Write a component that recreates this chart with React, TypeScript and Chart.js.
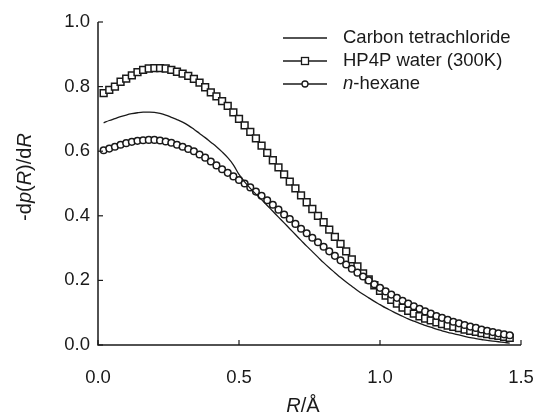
import React, { useEffect, useRef } from "react";
import { Chart, registerables } from "chart.js";
Chart.register(...registerables);

const R_VALUES = [
  0.02, 0.04, 0.06, 0.08, 0.1, 0.12, 0.14, 0.16, 0.18, 0.2,
  0.22, 0.24, 0.26, 0.28, 0.3, 0.32, 0.34, 0.36, 0.38, 0.4,
  0.42, 0.44, 0.46, 0.48, 0.5, 0.52, 0.54, 0.56, 0.58, 0.6,
  0.62, 0.64, 0.66, 0.68, 0.7, 0.72, 0.74, 0.76, 0.78, 0.8,
  0.82, 0.84, 0.86, 0.88, 0.9, 0.92, 0.94, 0.96, 0.98, 1.0,
  1.02, 1.04, 1.06, 1.08, 1.1, 1.12, 1.14, 1.16, 1.18, 1.2,
  1.22, 1.24, 1.26, 1.28, 1.3, 1.32, 1.34, 1.36, 1.38, 1.4,
  1.42, 1.44, 1.46,
];

const CCL4 = [
  0.688, 0.695, 0.701, 0.707, 0.712, 0.716, 0.719, 0.721, 0.721, 0.72,
  0.717, 0.712, 0.705, 0.698, 0.69, 0.68, 0.668, 0.655, 0.642, 0.628,
  0.614, 0.598, 0.58, 0.558, 0.528, 0.505, 0.485, 0.467, 0.45, 0.432,
  0.414, 0.396, 0.378, 0.36, 0.342, 0.324, 0.306, 0.289, 0.272, 0.255,
  0.239, 0.224, 0.209, 0.195, 0.182, 0.169, 0.157, 0.146, 0.135, 0.125,
  0.115, 0.106, 0.097, 0.089, 0.081, 0.074, 0.067, 0.061, 0.055, 0.049,
  0.044, 0.039, 0.035, 0.031, 0.027, 0.023, 0.02, 0.017, 0.014, 0.012,
  0.01, 0.008, 0.006,
];

const HP4P_WATER = [
  0.78, 0.79, 0.8, 0.815, 0.825, 0.835, 0.845, 0.852, 0.856, 0.857,
  0.857, 0.856, 0.852, 0.846, 0.84, 0.833, 0.824, 0.812, 0.798, 0.782,
  0.77, 0.755, 0.74, 0.72, 0.7, 0.68, 0.66, 0.64, 0.617, 0.595,
  0.572, 0.55, 0.528, 0.506, 0.485, 0.463, 0.442, 0.421, 0.4, 0.38,
  0.357, 0.335, 0.313, 0.29, 0.265, 0.243, 0.222, 0.203, 0.185, 0.168,
  0.153, 0.14, 0.128, 0.116, 0.106, 0.097, 0.089, 0.082, 0.076, 0.07,
  0.065, 0.06, 0.056, 0.052, 0.048, 0.044, 0.041, 0.037, 0.034, 0.031,
  0.028, 0.025, 0.022,
];

const N_HEXANE = [
  0.603, 0.608, 0.614, 0.62, 0.625, 0.629, 0.632, 0.634, 0.635, 0.635,
  0.633, 0.63, 0.626, 0.62, 0.614, 0.607, 0.6, 0.59, 0.58, 0.568,
  0.556, 0.544, 0.533, 0.522, 0.511, 0.5, 0.488, 0.475, 0.462, 0.448,
  0.434, 0.419, 0.404, 0.39, 0.375, 0.36, 0.346, 0.332, 0.318, 0.304,
  0.29, 0.276, 0.262, 0.249, 0.236, 0.224, 0.212, 0.2, 0.188, 0.177,
  0.166, 0.156, 0.146, 0.137, 0.128, 0.12, 0.112, 0.104, 0.097, 0.09,
  0.084, 0.078, 0.072, 0.067, 0.062, 0.057, 0.053, 0.048, 0.044, 0.04,
  0.036, 0.033, 0.03,
];

const SERIES_NAMES = ["Carbon tetrachloride", "HP4P water (300K)", "n-hexane"];
const X_TICKS = [0, 0.5, 1.0, 1.5];
const Y_TICKS = [0, 0.2, 0.4, 0.6, 0.8, 1.0];

const INK = "#1a1a1a";
const FONT = "'Liberation Sans', Arial, Helvetica, sans-serif";

type Part = { t: string; i?: boolean };

function drawParts(ctx: CanvasRenderingContext2D, parts: Part[], x: number, y: number, size: number, align: "left" | "center") {
  const widths = parts.map((p) => {
    ctx.font = `${p.i ? "italic " : ""}${size}px ${FONT}`;
    return ctx.measureText(p.t).width;
  });
  const total = widths.reduce((a, b) => a + b, 0);
  let cx = align === "center" ? x - total / 2 : x;
  parts.forEach((p, k) => {
    ctx.font = `${p.i ? "italic " : ""}${size}px ${FONT}`;
    ctx.fillText(p.t, cx, y);
    cx += widths[k];
  });
}

const decorPlugin = {
  id: "decor",
  afterDraw(chart: any) {
    const ctx: CanvasRenderingContext2D = chart.ctx;
    const xs = chart.scales.x;
    const ys = chart.scales.y;
    const area = chart.chartArea;
    ctx.save();
    ctx.strokeStyle = INK;
    ctx.lineWidth = 1.5;
    ctx.beginPath();
    ctx.moveTo(area.left, area.top);
    ctx.lineTo(area.left, area.bottom);
    ctx.lineTo(area.right, area.bottom);
    ctx.stroke();
    ctx.lineWidth = 1.2;
    X_TICKS.forEach((v) => {
      const px = xs.getPixelForValue(v);
      ctx.beginPath();
      ctx.moveTo(px, area.bottom);
      ctx.lineTo(px, area.bottom - 5);
      ctx.stroke();
    });
    Y_TICKS.forEach((v) => {
      const py = ys.getPixelForValue(v);
      ctx.beginPath();
      ctx.moveTo(area.left, py);
      ctx.lineTo(area.left + 5, py);
      ctx.stroke();
    });
    ctx.fillStyle = INK;
    ctx.textBaseline = "middle";
    drawParts(ctx, [{ t: "R", i: true }, { t: "/Å" }], 303, 406, 20, "center");
    ctx.save();
    ctx.translate(25, 177);
    ctx.rotate(-Math.PI / 2);
    drawParts(
      ctx,
      [{ t: "-d" }, { t: "p", i: true }, { t: "(" }, { t: "R", i: true }, { t: ")/d" }, { t: "R", i: true }],
      0, 0, 20, "center"
    );
    ctx.restore();
    const rows = [38, 61, 84];
    const x0 = 283, x1 = 327, xm = 305, tx = 343;
    rows.forEach((ry, k) => {
      ctx.strokeStyle = INK;
      ctx.lineWidth = 1.3;
      ctx.beginPath();
      ctx.moveTo(x0, ry);
      ctx.lineTo(x1, ry);
      ctx.stroke();
      if (k === 1) {
        ctx.fillStyle = "#fff";
        ctx.fillRect(xm - 3.5, ry - 3.5, 7, 7);
        ctx.strokeRect(xm - 3.5, ry - 3.5, 7, 7);
      } else if (k === 2) {
        ctx.fillStyle = "#fff";
        ctx.beginPath();
        ctx.arc(xm, ry, 3, 0, Math.PI * 2);
        ctx.fill();
        ctx.stroke();
      }
      ctx.fillStyle = INK;
      if (k === 2) {
        drawParts(ctx, [{ t: "n", i: true }, { t: "-hexane" }], tx, ry, 18.5, "left");
      } else {
        drawParts(ctx, [{ t: SERIES_NAMES[k] }], tx, ry, 18.5, "left");
      }
    });
    ctx.restore();
  },
};

export default function App() {
  const ref = useRef<HTMLCanvasElement | null>(null);
  useEffect(() => {
    document.body.style.margin = "0";
    const canvas = ref.current;
    if (!canvas) return;
    const toPts = (ys: number[]) => R_VALUES.map((r, i) => ({ x: r, y: ys[i] }));
    const chart = new Chart(canvas, {
      type: "line",
      data: {
        datasets: [
          {
            label: SERIES_NAMES[0],
            data: toPts(CCL4),
            borderColor: INK,
            borderWidth: 1.3,
            pointRadius: 0,
            tension: 0.4,
            fill: false,
          },
          {
            label: SERIES_NAMES[2],
            data: toPts(N_HEXANE),
            borderColor: INK,
            borderWidth: 1,
            pointStyle: "circle",
            pointRadius: 3.3,
            pointBorderWidth: 1.5,
            pointBackgroundColor: "#fff",
            pointBorderColor: INK,
            fill: false,
          },
          {
            label: SERIES_NAMES[1],
            data: toPts(HP4P_WATER),
            borderColor: INK,
            borderWidth: 1,
            pointStyle: "rect",
            pointRadius: 4.8,
            pointBorderWidth: 1.5,
            pointBackgroundColor: "#fff",
            pointBorderColor: INK,
            fill: false,
          },
        ],
      },
      options: {
        responsive: false,
        animation: false,
        layout: { padding: { top: 22, right: 13, left: 0, bottom: 0 } },
        plugins: { legend: { display: false }, tooltip: { enabled: false } },
        scales: {
          x: {
            type: "linear",
            min: 0,
            max: 1.5,
            afterBuildTicks: (s: any) => {
              s.ticks = X_TICKS.map((v) => ({ value: v }));
            },
            afterFit: (s: any) => {
              s.height = 72;
              s.paddingLeft = 0;
              s.paddingRight = 0;
            },
            grid: { display: false, drawTicks: false },
            border: { display: false },
            ticks: {
              color: INK,
              font: { family: FONT, size: 18.5 },
              padding: 22,
              maxRotation: 0,
              callback: (v: any) => Number(v).toFixed(1),
            },
          },
          y: {
            type: "linear",
            min: 0,
            max: 1.0,
            afterBuildTicks: (s: any) => {
              s.ticks = Y_TICKS.map((v) => ({ value: v }));
            },
            afterFit: (s: any) => {
              s.width = 98;
              s.paddingTop = 0;
              s.paddingBottom = 0;
            },
            grid: { display: false, drawTicks: false },
            border: { display: false },
            ticks: {
              color: INK,
              font: { family: FONT, size: 18.5 },
              padding: 8,
              callback: (v: any) => Number(v).toFixed(1),
            },
          },
        },
      },
      plugins: [decorPlugin],
    });
    return () => chart.destroy();
  }, []);
  return <canvas ref={ref} width={534} height={417} style={{ display: "block" }} />;
}
